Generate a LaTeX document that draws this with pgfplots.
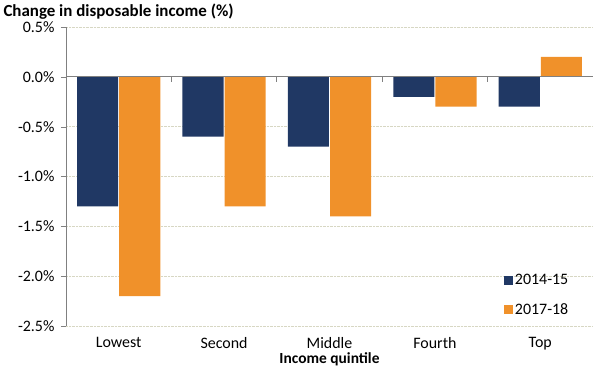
\documentclass[border=0pt]{standalone}
\usepackage{pgfplots}
\pgfplotsset{compat=1.18}
\usepackage{fontspec}
\setmainfont{Carlito}
\definecolor{navy}{RGB}{32,56,100}
\definecolor{orng}{RGB}{240,145,42}
\definecolor{gridc}{RGB}{215,215,195}
\definecolor{axc}{RGB}{128,128,128}
\begin{document}
\begin{tikzpicture}
\begin{axis}[
  at={(0,0)}, anchor=south west,
  scale only axis, width=527bp, height=299bp,
  xmin=-0.5, xmax=4.5, ymin=-2.5, ymax=0.5,
  xtick={0,1,2,3,4},
  xticklabels={Lowest,Second,Middle,Fourth,Top},
  x tick style={draw=none},
  xticklabel style={yshift=-5bp, inner sep=1bp},
  ytick={-2.5,-2,-1.5,-1,-0.5,0,0.5},
  yticklabels={-2.5\%,-2.0\%,-1.5\%,-1.0\%,-0.5\%,0.0\%,0.5\%},
  yticklabel style={xshift=-3bp},
  ytick style={draw=axc},
  major tick length=5bp,
  tick align=outside,
  tick pos=left,
  ymajorgrids,
  major grid style={gridc, densely dotted, line width=0.8pt},
  axis x line*=bottom,
  x axis line style={draw=none},
  axis y line*=left,
  y axis line style={draw=axc, line width=0.8pt, -},
  ticklabel style={font=\fontsize{16}{19}\selectfont},
  xlabel={\textbf{Income quintile}},
  xlabel style={font=\fontsize{15.5}{18}\selectfont, inner sep=0bp, yshift=-1bp},
  ybar, bar width=0.39,
  legend style={at={(0.825,0.02)}, anchor=south west, draw=none, fill=none,
    font=\fontsize{16}{19}\selectfont, row sep=13bp,
    legend cell align=left},
  legend image code/.code={\fill[#1] (0bp,-4.5bp) rectangle (9bp,4.5bp);},
  clip=false,
]
\addplot[fill=navy, draw=none, bar shift=-0.2] coordinates {(0,-1.3) (1,-0.6) (2,-0.7) (3,-0.2) (4,-0.3)};
\addplot[fill=orng, draw=none, bar shift=0.2] coordinates {(0,-2.2) (1,-1.3) (2,-1.4) (3,-0.3) (4,0.2)};
\legend{2014-15,2017-18}
\draw[axc, line width=0.8pt] (axis cs:-0.5,0) -- (axis cs:4.5,0);
\pgfplotsinvokeforeach{0.5,1.5,2.5,3.5}{\draw[axc, line width=0.8pt] (axis cs:#1,0) -- ([yshift=-5bp]axis cs:#1,0);}
\end{axis}
\node[anchor=west, font=\fontsize{17}{20}\selectfont\bfseries] at (-66bp,314bp) {Change in disposable income (\%)};
\pgfresetboundingbox
\path[use as bounding box] (-66bp,-45bp) rectangle (535bp,326bp);
\end{tikzpicture}
\end{document}
